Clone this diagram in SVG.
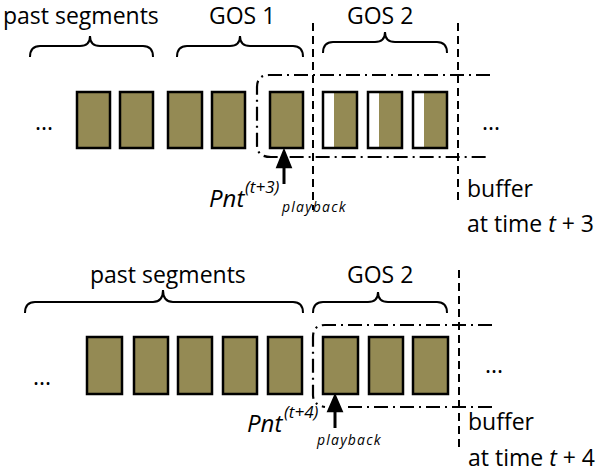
<svg xmlns="http://www.w3.org/2000/svg" width="600" height="475" viewBox="0 0 600 475">
<defs>
<style>
.seg{fill:#948A54;stroke:#000;stroke-width:2.5}
.frame{fill:none;stroke:#000;stroke-width:2.5}
.brace{fill:none;stroke:#000;stroke-width:2}
.dash{fill:none;stroke:#000;stroke-width:2;stroke-dasharray:8,5}
.dd{fill:none;stroke:#000;stroke-width:2.2;stroke-dasharray:14,5,2,5}
.t{font-family:"Open Sans",Lato,"Liberation Sans",sans-serif;font-size:23px;fill:#000}
.it{font-family:"Open Sans",Lato,"Liberation Sans",sans-serif;font-style:italic;fill:#000}
.arrow{fill:#000;stroke:#000;stroke-width:2.5}
</style>
</defs>
<rect width="600" height="475" fill="#fff"/>

<!-- ===== Top (t+3) ===== -->
<g id="top-labels">
<text class="t" x="3" y="24">past segments</text>
<text class="t" x="209" y="24">GOS 1</text>
<text class="t" x="347" y="24">GOS 2</text>
<text class="t" x="35" y="130">...</text>
<text class="t" x="482" y="130">...</text>
<text class="t" x="467" y="197">buffer</text>
<text class="t" x="467" y="232">at time <tspan font-style="italic">t</tspan> + 3</text>
</g>
<g id="top-braces">
<path class="brace" d="M30,57 Q30,46 40,46 L80,46 Q90,46 90,36 Q90,46 100,46 L143,46 Q153,46 153,57"/>
<path class="brace" d="M177,57 Q177,46 187,46 L230,46 Q240,46 240,36 Q240,46 250,46 L293,46 Q303,46 303,57"/>
<path class="brace" d="M323,53 Q323,42 333,42 L375,42 Q385,42 385,32 Q385,42 395,42 L437,42 Q447,42 447,53"/>
</g>
<g id="top-segments">
<rect class="seg" x="77" y="92" width="33" height="56"/>
<rect class="seg" x="120" y="92" width="33" height="56"/>
<rect class="seg" x="168" y="92" width="34" height="56"/>
<rect class="seg" x="212" y="92" width="33" height="56"/>
<rect class="seg" x="270" y="92" width="33" height="56"/>
<g id="gos2-partial">
<rect x="323" y="92" width="34" height="56" fill="#fff"/>
<rect x="334" y="92" width="23" height="56" fill="#948A54"/>
<rect class="frame" x="323" y="92" width="34" height="56"/>
<rect x="368" y="92" width="34" height="56" fill="#fff"/>
<rect x="379" y="92" width="23" height="56" fill="#948A54"/>
<rect class="frame" x="368" y="92" width="34" height="56"/>
<rect x="413" y="92" width="34" height="56" fill="#fff"/>
<rect x="424" y="92" width="23" height="56" fill="#948A54"/>
<rect class="frame" x="413" y="92" width="34" height="56"/>
</g>
</g>
<g id="top-connectors">
<line class="dash" x1="313" y1="23" x2="313" y2="210"/>
<line class="dash" x1="458" y1="23" x2="458" y2="205"/>
<path class="dd" d="M490,75 L269,75 Q257,75 257,87 L257,145 Q257,157 271,157 L490,157"/>
<line x1="284" y1="184" x2="284" y2="165" stroke="#000" stroke-width="3"/>
<polygon class="arrow" points="284,151 277.5,167 290.5,167"/>
</g>
<g id="top-pointer">
<text class="it" x="209" y="207" font-size="24">Pnt</text>
<text class="it" x="245" y="193" font-size="17">(t+3)</text>
<text class="it" x="282" y="212" font-size="14" letter-spacing="1.2">playback</text>
</g>

<!-- ===== Bottom (t+4) ===== -->
<g id="bottom-labels">
<text class="t" x="90" y="283">past segments</text>
<text class="t" x="347" y="283">GOS 2</text>
<text class="t" x="33" y="385">...</text>
<text class="t" x="485" y="373">...</text>
<text class="t" x="468" y="430">buffer</text>
<text class="t" x="468" y="466">at time <tspan font-style="italic">t</tspan> + 4</text>
</g>
<g id="bottom-braces">
<path class="brace" d="M25,313 Q25,302 35,302 L153,302 Q163,302 163,290 Q163,302 173,302 L293,302 Q303,302 303,313"/>
<path class="brace" d="M313,313 Q313,302 323,302 L368,302 Q378,302 378,292 Q378,302 388,302 L437,302 Q447,302 447,313"/>
</g>
<g id="bottom-segments">
<rect class="seg" x="87" y="337" width="35" height="57"/>
<rect class="seg" x="134" y="337" width="34" height="57"/>
<rect class="seg" x="178" y="337" width="34" height="57"/>
<rect class="seg" x="223" y="337" width="34" height="57"/>
<rect class="seg" x="268" y="337" width="34" height="57"/>
<rect class="seg" x="323" y="337" width="35" height="57"/>
<rect class="seg" x="369" y="337" width="34" height="57"/>
<rect class="seg" x="413" y="337" width="35" height="57"/>
</g>
<g id="bottom-connectors">
<line class="dash" x1="459" y1="270" x2="459" y2="452"/>
<path class="dd" d="M492,325 L325,325 Q313,325 313,337 L313,395 Q313,405 325,407 M348,407 L492,407"/>
<line x1="335" y1="428" x2="335" y2="410" stroke="#000" stroke-width="3"/>
<polygon class="arrow" points="335,396 328.5,411 341.5,411"/>
</g>
<g id="bottom-pointer">
<text class="it" x="247" y="432" font-size="24">Pnt</text>
<text class="it" x="284" y="418" font-size="17">(t+4)</text>
<text class="it" x="317" y="445" font-size="14" letter-spacing="1.2">playback</text>
</g>
</svg>
